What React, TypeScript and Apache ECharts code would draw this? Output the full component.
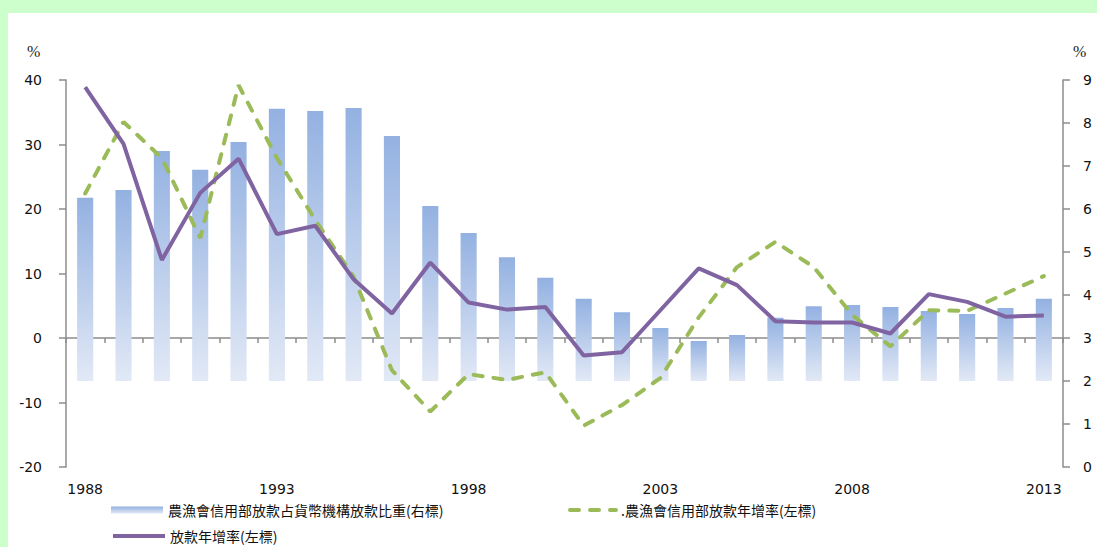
import React, { useEffect, useRef } from "react";
import * as echarts from "echarts";

// Years on the category axis
const years = [
  "1988", "1989", "1990", "1991", "1992", "1993", "1994", "1995", "1996",
  "1997", "1998", "1999", "2000", "2001", "2002", "2003", "2004", "2005",
  "2006", "2007", "2008", "2009", "2010", "2011", "2012", "2013",
];

// 農漁會信用部放款占貨幣機構放款比重 (right axis, %)
const creditShare = [
  6.26, 6.44, 7.35, 6.91, 7.56, 8.33, 8.28, 8.35, 7.7, 6.07, 5.44, 4.88, 4.4,
  3.91, 3.6, 3.23, 2.93, 3.07, 3.47, 3.74, 3.77, 3.72, 3.63, 3.56, 3.7, 3.91,
];

// 農漁會信用部放款年增率 (left axis, %)
const creditGrowth = [
  22.4, 33.5, 27.9, 15.5, 39.2, 27.9, 18.3, 9.5, -5.0, -11.4, -5.6, -6.5, -5.3,
  -13.6, -10.4, -6.2, 3.2, 11.0, 14.9, 11.0, 3.6, -1.3, 4.3, 4.2, 6.9, 9.6,
];

// 放款年增率 (left axis, %)
const loanGrowth = [
  38.9, 30.1, 12.1, 22.5, 27.8, 16.1, 17.4, 9.1, 3.8, 11.7, 5.5, 4.4, 4.8,
  -2.7, -2.2, 4.3, 10.8, 8.2, 2.6, 2.4, 2.4, 0.7, 6.8, 5.6, 3.3, 3.5,
];

// Right-axis value where the share bars start (the category axis crossing)
const SHARE_BAR_BASE = 2;

const NAME_SHARE = "農漁會信用部放款占貨幣機構放款比重(右標)";
const NAME_CREDIT = ".農漁會信用部放款年增率(左標)";
const NAME_LOAN = "放款年增率(左標)";

const LATIN_FONT = "'DejaVu Sans', Verdana, sans-serif";
const CJK_FONT = "'Noto Sans CJK TC', 'Noto Sans CJK SC', sans-serif";

const AXIS_GRAY = "#8c8c8c";

export default function App() {
  const ref = useRef<HTMLDivElement>(null);

  useEffect(() => {
    if (!ref.current) return;
    const chart = echarts.init(ref.current, undefined, { renderer: "svg" });

    const barFill = () =>
      new echarts.graphic.LinearGradient(0, 0, 0, 1, [
        { offset: 0, color: "#93b1e1" },
        { offset: 1, color: "#e2e9f6" },
      ]);

    const legendText = { fontFamily: CJK_FONT, fontSize: 14, color: "#111" };
    // Line legends show only the stroke, without the marker dot
    const hiddenMarker = { color: "transparent", borderColor: "transparent", borderWidth: 0 };

    chart.setOption({
      animation: false,
      backgroundColor: "#ffffff",
      grid: { left: 58, right: 34, top: 67, bottom: 80, containLabel: false },
      graphic: [
        {
          type: "text",
          left: 19,
          top: 30,
          style: { text: "%", font: "16px 'Liberation Serif', serif", fill: "#222" },
        },
        {
          type: "text",
          left: 1065,
          top: 30,
          style: { text: "%", font: "16px 'Liberation Serif', serif", fill: "#222" },
        },
      ],
      legend: [
        {
          data: [{ name: NAME_SHARE, icon: "rect", itemStyle: { color: barFill() } }],
          left: 103,
          top: 490,
          padding: 0,
          itemWidth: 52,
          itemHeight: 7,
          textStyle: legendText,
          selectedMode: false,
        },
        {
          data: [NAME_CREDIT],
          left: 560,
          top: 490,
          padding: 0,
          itemWidth: 46,
          itemHeight: 14,
          itemStyle: hiddenMarker,
          lineStyle: { width: 4 },
          textStyle: legendText,
          selectedMode: false,
        },
        {
          data: [NAME_LOAN],
          left: 103,
          top: 516,
          padding: 0,
          itemWidth: 52,
          itemHeight: 14,
          itemStyle: hiddenMarker,
          lineStyle: { width: 4 },
          textStyle: legendText,
          selectedMode: false,
        },
      ],
      xAxis: [
        {
          // Year labels along the bottom of the plot
          type: "category",
          data: years,
          boundaryGap: true,
          position: "bottom",
          axisLine: { show: false, onZero: false },
          axisTick: { show: false },
          axisLabel: {
            interval: 4,
            margin: 15,
            fontFamily: LATIN_FONT,
            fontSize: 14,
            color: "#111",
          },
          splitLine: { show: false },
        },
        {
          // Baseline through zero on the left axis, with category ticks
          type: "category",
          data: years,
          boundaryGap: true,
          position: "bottom",
          axisLine: {
            show: true,
            onZero: true,
            onZeroAxisIndex: 0,
            lineStyle: { color: AXIS_GRAY, width: 1.5 },
          },
          axisTick: {
            show: true,
            interval: 0,
            length: 5,
            lineStyle: { color: AXIS_GRAY, width: 1.5 },
          },
          axisLabel: { show: false },
          splitLine: { show: false },
        },
      ],
      yAxis: [
        {
          type: "value",
          min: -20,
          max: 40,
          interval: 10,
          position: "left",
          axisLine: { show: true, lineStyle: { color: AXIS_GRAY, width: 1.5 } },
          axisTick: { show: true, length: 7, lineStyle: { color: AXIS_GRAY, width: 1.5 } },
          axisLabel: { margin: 24, fontFamily: LATIN_FONT, fontSize: 14, color: "#111" },
          splitLine: { show: false },
        },
        {
          type: "value",
          min: 0,
          max: 9,
          interval: 1,
          position: "right",
          axisLine: { show: true, lineStyle: { color: AXIS_GRAY, width: 1.5 } },
          axisTick: { show: true, length: 7, lineStyle: { color: AXIS_GRAY, width: 1.5 } },
          axisLabel: { margin: 20, fontFamily: LATIN_FONT, fontSize: 14, color: "#111" },
          splitLine: { show: false },
        },
      ],
      series: [
        {
          name: NAME_SHARE,
          type: "custom",
          xAxisIndex: 0,
          yAxisIndex: 1,
          z: 1,
          itemStyle: { color: barFill() },
          encode: { x: 0, y: 1 },
          data: creditShare.map((v, i) => [i, v]),
          renderItem: (params: any, api: any) => {
            const idx = api.value(0);
            const top = api.coord([idx, api.value(1)]);
            const base = api.coord([idx, SHARE_BAR_BASE]);
            const w = api.size([1, 0])[0] * 0.42;
            return {
              type: "rect",
              shape: {
                x: top[0] - w / 2,
                y: top[1],
                width: w,
                height: base[1] - top[1],
              },
              style: { fill: barFill() },
            };
          },
        },
        {
          name: NAME_CREDIT,
          type: "line",
          xAxisIndex: 0,
          yAxisIndex: 0,
          z: 3,
          symbol: "none",
          color: "#9bbb59",
          lineStyle: { color: "#9bbb59", width: 4, type: [9, 11], cap: "round" },
          data: creditGrowth,
        },
        {
          name: NAME_LOAN,
          type: "line",
          xAxisIndex: 0,
          yAxisIndex: 0,
          z: 4,
          symbol: "none",
          color: "#8064a2",
          lineStyle: { color: "#8064a2", width: 4 },
          data: loanGrowth,
        },
      ],
    });

    return () => chart.dispose();
  }, []);

  return (
    <div
      style={{
        position: "fixed",
        left: 0,
        top: 0,
        width: 1097,
        height: 547,
        background: "#ccffcc",
      }}
    >
      <div
        ref={ref}
        style={{
          position: "absolute",
          left: 8,
          top: 13,
          width: 1089,
          height: 534,
          background: "#ffffff",
        }}
      />
    </div>
  );
}
